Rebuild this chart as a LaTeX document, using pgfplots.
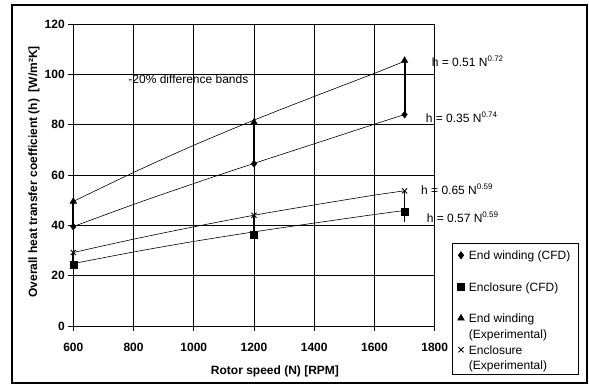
\documentclass[border=0pt]{standalone}
\usepackage{pgfplots}
\pgfplotsset{compat=1.18}
\usepackage{fontspec}
\setmainfont{Liberation Sans}
\newcommand\fs{\fontsize{12}{15.5}\selectfont}
\newcommand\eq[2]{h = #1 N\raisebox{5pt}{\fontsize{8}{9}\selectfont #2}}
\begin{document}
\begin{tikzpicture}
\useasboundingbox (0pt,0pt) rectangle (589pt,385pt);
\draw[line width=1.5pt] (12pt,2pt) rectangle (587pt,380pt);
\begin{axis}[
 at={(73.3pt,59pt)}, anchor=south west, scale only axis,
 width=361.4pt, height=302pt,
 xmin=600, xmax=1800, ymin=0, ymax=120,
 xtick={600,800,...,1800}, ytick={0,20,...,120},
 grid=major, major grid style={black, line width=0.6pt},
 axis line style={line width=0.8pt},
 tick align=outside, tick pos=left, major tick length=5pt,
 tick style={black, line width=0.6pt},
 tick label style={font=\fs\bfseries},
 xticklabel style={yshift=-9pt},
 /pgf/number format/assume math mode=true,
 /pgf/number format/1000 sep={},
 xlabel={Rotor speed (N) [RPM]},
 ylabel={Overall heat transfer coefficient (h)\ \ [W/m²K]},
 label style={font=\fs\bfseries},
 xlabel style={at={(axis description cs:0.558,-0.162)}, anchor=base},
 ylabel style={at={(axis description cs:-0.109,0.51)}, anchor=center},
 clip=false,
 legend style={at={(axis description cs:1.047,0.274)}, anchor=north west,
   draw=black, line width=0.6pt, fill=white, inner xsep=5.5pt, inner ysep=3pt,
   row sep=1.5pt, column sep=4.5pt, font=\fs,
   nodes={inner sep=0pt, text height=13pt, text depth=17pt}},
 legend cell align=left,
 legend image code/.code={\draw[mark repeat=2,mark phase=2,#1] plot coordinates {(-3pt,6.3pt)(0pt,6.3pt)(3pt,6.3pt)};},
]
% fitted curves
\addplot[black, line width=0.6pt, smooth, forget plot] coordinates {(600,49.5)(800,61.0)(1000,71.8)(1200,81.8)(1400,91.2)(1600,100.4)(1700,105.2)};
\addplot[black, line width=0.6pt, smooth, forget plot] coordinates {(600,39.5)(800,48.3)(1000,56.6)(1200,64.6)(1400,72.4)(1600,80.2)(1700,84.0)};
\addplot[black, line width=0.6pt, smooth, forget plot] coordinates {(600,29.2)(800,34.5)(1000,39.4)(1200,44.0)(1400,48.1)(1600,52.0)(1700,53.7)};
\addplot[black, line width=0.6pt, smooth, forget plot] coordinates {(600,24.8)(800,29.4)(1000,33.6)(1200,37.4)(1400,40.9)(1600,44.3)(1700,45.9)};
% lower cap at 1700 enclosure
\addplot[forget plot, only marks, mark=none, black, error bars/.cd, y dir=minus, y explicit, error mark=-, error bar style={line width=1.4pt}, error mark options={mark size=4pt, line width=1.4pt, black}] coordinates {(1700,45.6) +- (0,2.6)};
% End winding CFD
\addplot[only marks, mark=diamond*, mark size=3.6pt, black, error bars/.cd, y dir=plus, y explicit, error mark=none, error bar style={line width=2pt}] coordinates {(600,39.5) +- (0,10) (1200,64.5) +- (0,16.5) (1700,84) +- (0,21.5)};
\addlegendentry{\parbox[t]{104pt}{End winding (CFD)}}
% Enclosure CFD
\addplot[only marks, mark=square*, mark size=3.5pt, black, error bars/.cd, y dir=plus, y explicit, error mark=none, error bar style={line width=1.6pt}] coordinates {(600,24.5) +- (0,4.7) (1200,36.4) +- (0,7.6) (1700,45.6) +- (0,8.1)};
\addlegendentry{\parbox[t]{104pt}{Enclosure (CFD)}}
% End winding experimental
\addplot[only marks, mark=triangle*, mark size=3.8pt, black] coordinates {(600,49.5)(1200,81)(1700,105.5)};
\addlegendentry{\parbox[t]{104pt}{End winding\\(Experimental)}}
% Enclosure experimental
\addplot[only marks, mark=x, mark size=3.6pt, black, line width=0.8pt] coordinates {(600,29.2)(1200,44)(1700,53.7)};
\addlegendentry{\parbox[t]{104pt}{Enclosure\\(Experimental)}}
% text
\node[anchor=base west, font=\fs, inner sep=0pt] at (axis cs:782.6,96.4) {-20\% difference bands};
\node[anchor=base west, font=\fs, inner sep=0pt] at (axis cs:1790,103.3) {\eq{0.51}{0.72}};
\node[anchor=base west, font=\fs, inner sep=0pt] at (axis cs:1770,80.8) {\eq{0.35}{0.74}};
\node[anchor=base west, font=\fs, inner sep=0pt] at (axis cs:1754.5,52.3) {\eq{0.65}{0.59}};
\node[anchor=base west, font=\fs, inner sep=0pt] at (axis cs:1773,41.2) {\eq{0.57}{0.59}};
\end{axis}
\end{tikzpicture}
\end{document}
